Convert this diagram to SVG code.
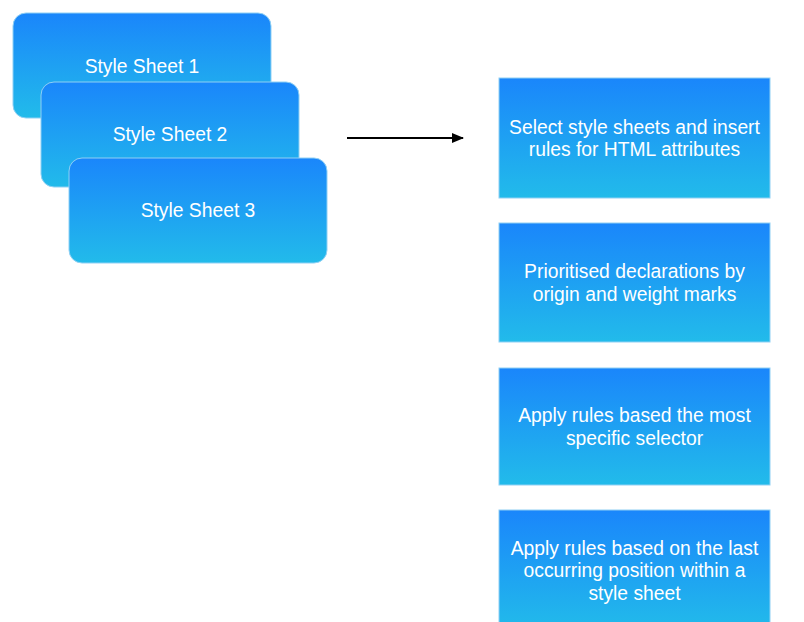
<svg xmlns="http://www.w3.org/2000/svg" width="804" height="622" viewBox="0 0 804 622">
<defs>
<linearGradient id="g" x1="0" y1="0" x2="0" y2="1">
<stop offset="0" stop-color="#1a86fb"/>
<stop offset="1" stop-color="#22bbea"/>
</linearGradient>
<marker id="ah" markerWidth="12" markerHeight="10" refX="11" refY="5" orient="auto" markerUnits="userSpaceOnUse">
<path d="M0,0 L12,5 L0,10 Z" fill="#000"/>
</marker>
</defs>
<style>
.box{fill:url(#g);stroke:#8fd0f4;stroke-width:1}
.t{font-family:"Liberation Sans",Arial,sans-serif;font-size:19.3px;fill:#fff;text-anchor:middle}
</style>
<rect width="804" height="622" fill="#fff"/>
<g id="sheet1"><rect class="box" x="13" y="13" width="258" height="105" rx="13"/><text class="t" x="142" y="73">Style Sheet 1</text></g>
<g id="sheet2"><rect class="box" x="41" y="82" width="258" height="105" rx="13"/><text class="t" x="170" y="141">Style Sheet 2</text></g>
<g id="sheet3"><rect class="box" x="69" y="158" width="258" height="105" rx="13"/><text class="t" x="198" y="217">Style Sheet 3</text></g>
<g id="connectors"><line x1="347" y1="138" x2="463" y2="138" stroke="#000" stroke-width="2" marker-end="url(#ah)"/></g>
<g id="step1"><rect class="box" x="499" y="78" width="271" height="120"/><text class="t" x="634.5" y="134">Select style sheets and insert</text><text class="t" x="634.5" y="156">rules for HTML attributes</text></g>
<g id="step2"><rect class="box" x="499" y="223" width="271" height="119"/><text class="t" x="634.5" y="278">Prioritised declarations by</text><text class="t" x="634.5" y="301">origin and weight marks</text></g>
<g id="step3"><rect class="box" x="499" y="368" width="271" height="117"/><text class="t" x="634.5" y="422">Apply rules based the most</text><text class="t" x="634.5" y="445">specific selector</text></g>
<g id="step4"><rect class="box" x="499" y="510" width="271" height="120"/><text class="t" x="634.5" y="555">Apply rules based on the last</text><text class="t" x="634.5" y="577">occurring position within a</text><text class="t" x="634.5" y="600">style sheet</text></g>
</svg>
